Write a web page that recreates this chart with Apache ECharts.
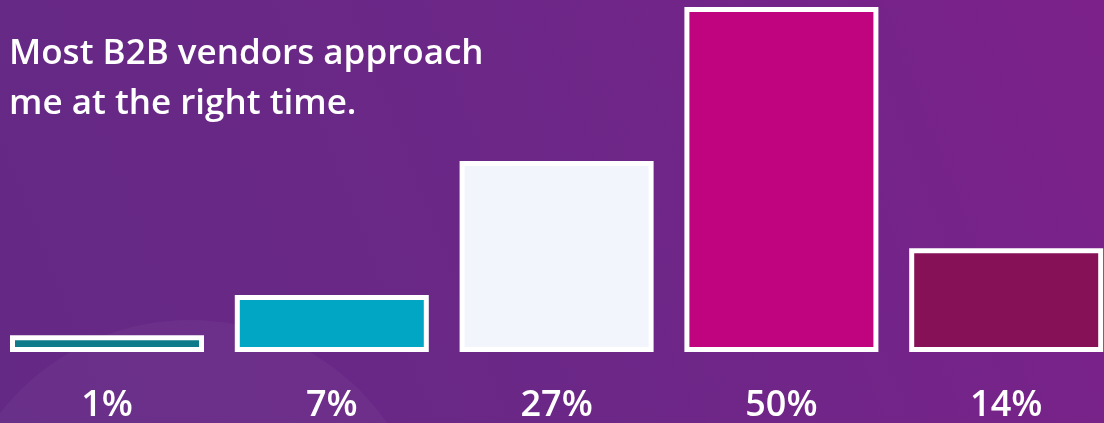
<!DOCTYPE html>
<html>
<head>
<meta charset="utf-8">
<script src="https://cdn.jsdelivr.net/npm/echarts@6/dist/echarts.min.js"></script>
<style>
html,body{margin:0;padding:0;background:#6b2886;}
#c{width:1104px;height:423px;}
</style>
</head>
<body>
<div id="c"></div>
<script>
const titleText = "Most B2B vendors approach\nme at the right time.";
const categories = ["1%", "7%", "27%", "50%", "14%"];
const values = [1, 7, 27, 50, 14];
const barColors = ["#0f7b8a", "#00a6c4", "#f2f5fc", "#c0047f", "#861157"];

const BAR_W = 184;
const chart = echarts.init(document.getElementById('c'), null, {renderer: 'canvas'});
chart.setOption({
  animation: false,
  backgroundColor: 'transparent',
  graphic: [
    {
      type: 'rect', z: -10, silent: true,
      shape: {x: 0, y: 0, width: 1104, height: 423},
      style: {
        fill: new echarts.graphic.LinearGradient(0, 1, 1, 0, [
          {offset: 0, color: '#642985'},
          {offset: 0.5, color: '#6c2787'},
          {offset: 1, color: '#7c218a'}
        ])
      }
    },
    {
      type: 'circle', z: -9, silent: true,
      shape: {cx: 190, cy: 560, r: 240},
      style: {fill: 'rgba(255,255,255,0.035)'}
    }
  ],
  title: {
    text: titleText,
    left: 4,
    top: 24,
    textStyle: {
      color: '#ffffff',
      fontFamily: 'Open Sans',
      fontWeight: 600,
      fontSize: 35,
      lineHeight: 50
    }
  },
  grid: {left: -5.4, width: 1124, top: 12, bottom: 76, containLabel: false, outerBoundsMode: 'none'},
  xAxis: {
    type: 'category',
    data: categories,
    axisLine: {show: false},
    axisTick: {show: false},
    splitLine: {show: false},
    axisLabel: {
      color: '#ffffff',
      fontFamily: 'Open Sans',
      fontWeight: 600,
      fontSize: 36,
      margin: 41
    }
  },
  yAxis: {
    type: 'value', min: 0, max: 50, show: false,
    splitLine: {show: false}
  },
  series: [{
    type: 'custom',
    clip: false,
    encode: {x: 0, y: 1},
    data: values.map((v, i) => [i, v]),
    renderItem: function (params, api) {
      const top = api.coord([api.value(0), api.value(1)]);
      const base = api.coord([api.value(0), 0]);
      return {
        type: 'rect',
        shape: {x: top[0] - BAR_W / 2, y: top[1], width: BAR_W, height: base[1] - top[1]},
        style: {
          fill: barColors[params.dataIndex],
          stroke: '#ffffff',
          lineWidth: 10,
          strokeFirst: true
        }
      };
    }
  }]
});
</script>
</body>
</html>
